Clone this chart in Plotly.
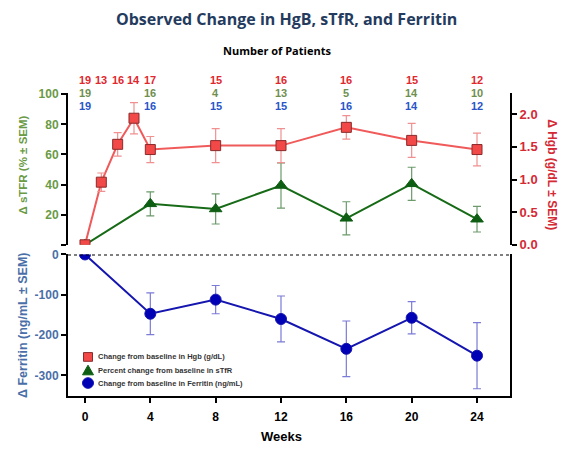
import plotly.graph_objects as go

# ---------------- data ----------------
weeks_hgb = [0, 1, 2, 3, 4, 8, 12, 16, 20, 24]
hgb = [0.0, 0.96, 1.54, 1.94, 1.46, 1.52, 1.52, 1.80, 1.60, 1.46]
hgb_sem = [0.0, 0.14, 0.18, 0.24, 0.20, 0.26, 0.26, 0.18, 0.26, 0.25]

weeks = [0, 4, 8, 12, 16, 20, 24]
stfr = [0.0, 27.2, 23.8, 39.4, 17.6, 40.5, 17.0]
stfr_sem = [0.0, 8.0, 10.0, 15.0, 11.0, 11.0, 8.5]

ferritin = [0.0, -147, -112, -160, -234, -157, -251]
ferritin_sem = [0.0, 52, 35, 57, 69, 40, 82]

n_hgb = [19, 13, 16, 14, 17, 15, 16, 16, 15, 12]
n_stfr = [19, 16, 4, 13, 5, 14, 10]
n_ferr = [19, 16, 15, 15, 16, 14, 12]

x_ticks = [0, 4, 8, 12, 16, 20, 24]
stfr_ticks = [0, 20, 40, 60, 80, 100]
hgb_ticks = [0.0, 0.5, 1.0, 1.5, 2.0]
ferr_ticks = [-300, -200, -100, 0]

legend_labels = ["Change from baseline in Hgb (g/dL)",
                 "Percent change from baseline in sTfR",
                 "Change from baseline in Ferritin (ng/mL)"]

# ---------------- styling ----------------
W, H = 578, 450
def py(p):
    return 1 - p / H
def px(p):
    return p / W

RED_LINE = "#f05a5a"
RED_FILL = "#f24848"
RED_EDGE = "#8a2a2a"
RED_ERR = "#f09090"
GREEN_LINE = "#176b17"
GREEN_FILL = "#0d5e12"
GREEN_ERR = "#6b9a6b"
BLUE_LINE = "#1515b0"
BLUE_FILL = "#0000b4"
BLUE_ERR = "#7b7bd8"

TXT_RED = "#d42a35"
TXT_GREEN = "#6a9a45"
TXT_BLUE = "#4a6fa8"
FONT = "Liberation Sans, Arial, sans-serif"

fig = go.Figure()

# Hgb (right axis, upper panel)
fig.add_trace(go.Scatter(x=weeks_hgb, y=hgb, mode="lines", yaxis="y3",
                         line=dict(color=RED_LINE, width=2), showlegend=False, hoverinfo="skip"))
fig.add_trace(go.Scatter(x=weeks_hgb, y=hgb, mode="markers", yaxis="y3", showlegend=False,
                         name=legend_labels[0],
                         marker=dict(symbol="square", size=10, color=RED_FILL,
                                     line=dict(color=RED_EDGE, width=1)),
                         error_y=dict(type="data", array=hgb_sem, color=RED_ERR, thickness=1.2, width=4)))
# sTfR (left axis, upper panel)
fig.add_trace(go.Scatter(x=weeks, y=stfr, mode="lines", yaxis="y2",
                         line=dict(color=GREEN_LINE, width=2), showlegend=False, hoverinfo="skip"))
fig.add_trace(go.Scatter(x=weeks, y=stfr, mode="markers", yaxis="y2", showlegend=False,
                         name=legend_labels[1],
                         marker=dict(symbol="triangle-up", size=11, color=GREEN_FILL,
                                     line=dict(color=GREEN_FILL, width=1)),
                         error_y=dict(type="data", array=stfr_sem, color=GREEN_ERR, thickness=1.2, width=4)))
# Ferritin (left axis, lower panel)
fig.add_trace(go.Scatter(x=weeks, y=ferritin, mode="lines", yaxis="y",
                         line=dict(color=BLUE_LINE, width=2), showlegend=False, hoverinfo="skip"))
fig.add_trace(go.Scatter(x=weeks, y=ferritin, mode="markers", yaxis="y", showlegend=False,
                         name=legend_labels[2],
                         marker=dict(symbol="circle", size=11, color=BLUE_FILL,
                                     line=dict(color=BLUE_LINE, width=1)),
                         error_y=dict(type="data", array=ferritin_sem, color=BLUE_ERR, thickness=1.2, width=4)))

tickcommon = dict(showline=True, linecolor="black", linewidth=2, ticks="outside",
                  ticklen=5, tickwidth=2, tickcolor="black", showgrid=False, zeroline=False)

fig.update_layout(
    width=W, height=H, margin=dict(l=0, r=0, t=0, b=0),
    paper_bgcolor="white", plot_bgcolor="white",
    font=dict(family=FONT),
    showlegend=False,
    xaxis=dict(domain=[px(68), px(510)], range=[-1.04, 26.02], anchor="y",
               tickvals=x_ticks, ticktext=[str(v) for v in x_ticks],
               tickfont=dict(size=12, color="black", weight="bold"),
               ticklabelstandoff=4,
               **tickcommon),
    yaxis=dict(domain=[py(402), py(256)], range=[-350, 0], anchor="x", mirror=True,
               tickvals=ferr_ticks, ticktext=[str(v) for v in ferr_ticks],
               tickfont=dict(size=12, color=TXT_BLUE, weight="bold"),
               **tickcommon),
    yaxis2=dict(domain=[py(246), py(89)], range=[0, 100.8], anchor="x",
                tickvals=stfr_ticks, ticktext=[""] + [str(v) for v in stfr_ticks[1:]],
                tickfont=dict(size=12, color=TXT_GREEN, weight="bold"),
                **tickcommon),
    yaxis3=dict(domain=[py(246), py(89)], range=[0, 2.326], anchor="x", overlaying="y2",
                side="right", tickvals=hgb_ticks, ticktext=[f"{v:.1f}" for v in hgb_ticks],
                tickfont=dict(size=13, color=TXT_RED, weight="bold"),
                **tickcommon),
)

# dotted baseline across break
fig.add_shape(type="line", xref="x domain", yref="y", x0=0, x1=1, y0=0, y1=0,
              line=dict(color="black", width=2, dash="dot"))

# legend swatches (drawn manually for compact spacing)
leg_x = 88
leg_rows = [362, 376, 389]
s = 4.5
fig.add_shape(type="rect", xref="paper", yref="paper",
              x0=px(leg_x - s), x1=px(leg_x + s), y0=py(leg_rows[0] + s), y1=py(leg_rows[0] - s),
              fillcolor=RED_FILL, line=dict(color=RED_EDGE, width=1))
fig.add_shape(type="path", xref="paper", yref="paper",
              path=f"M {px(leg_x - 5.5)} {py(leg_rows[1] + 4.5)} L {px(leg_x + 5.5)} {py(leg_rows[1] + 4.5)} "
                   f"L {px(leg_x)} {py(leg_rows[1] - 5.5)} Z",
              fillcolor=GREEN_FILL, line=dict(color=GREEN_FILL, width=1))
fig.add_shape(type="circle", xref="paper", yref="paper",
              x0=px(leg_x - 5.5), x1=px(leg_x + 5.5), y0=py(leg_rows[2] + 5.5), y1=py(leg_rows[2] - 5.5),
              fillcolor=BLUE_FILL, line=dict(color=BLUE_LINE, width=1))

ann = []
def A(text, x, y, size, color, xref="paper", family=None, angle=0, xanchor="center"):
    f = dict(size=size, color=color)
    if family:
        f["family"] = family
    ann.append(dict(text=text, x=x, y=y, xref=xref, yref="paper", showarrow=False,
                    xanchor=xanchor, yanchor="middle", textangle=angle, font=f))

A("<b>Observed Change in HgB, sTfR, and Ferritin</b>", px(286), py(12), 16, "#243b5e",
  family="Open Sans, sans-serif")
A("<b>Number of Patients</b>", px(277), py(45), 11, "black", family="Open Sans, sans-serif")
for wk, n in zip(weeks_hgb, n_hgb):
    A(f"<b>{n}</b>", wk, py(76), 11, "#e0282e", xref="x")
for wk, n in zip(weeks, n_stfr):
    A(f"<b>{n}</b>", wk, py(89), 11, "#6f8f4f", xref="x")
for wk, n in zip(weeks, n_ferr):
    A(f"<b>{n}</b>", wk, py(102), 11, "#2a55c8", xref="x")
A("<b>Δ sTFR (% ± SEM)</b>", px(23), py(164), 11.5, TXT_GREEN, angle=-90)
A("<b>Δ Ferritin (ng/mL ± SEM)</b>", px(23), py(330), 12.5, TXT_BLUE, angle=-90)
A("<b>Δ Hgb (g/dL ± SEM)</b>", px(552), py(173), 12, TXT_RED, angle=90)
A("<b>Weeks</b>", px(281), py(444), 13, "black")
for lab, r in zip(legend_labels, leg_rows):
    A(f"<b>{lab}</b>", px(96), py(r), 7.5, "#333333", xanchor="left")
fig.update_layout(annotations=ann)

fig.write_html("out.html")
